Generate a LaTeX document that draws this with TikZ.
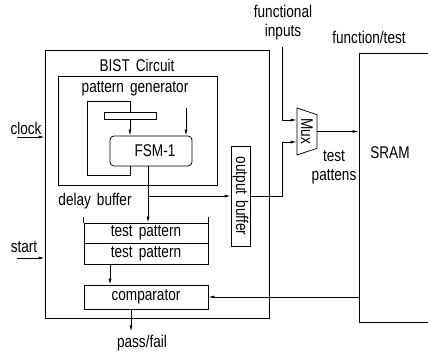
\documentclass[tikz,border=0pt]{standalone}
\usepackage{fontspec}
\setmainfont{Liberation Sans}[FakeStretch=0.8,WordSpace=1.6]
\usetikzlibrary{arrows.meta, shapes.geometric}

\begin{document}
\begin{tikzpicture}[x=1pt, y=-1pt, font=\fontsize{17}{19}\selectfont,
  line width=0.75pt,
  box/.style={draw, inner sep=0pt},
  arr/.style={-{Latex[length=6pt,width=3pt]}}]
\clip (0,0) rectangle (428,355);
% big blocks
\node[box, minimum width=224, minimum height=268] (bist) at (157,184) {};
\node[box, minimum width=159, minimum height=109] (patgen) at (137.5,130.5) {};
\node[box, minimum width=100, minimum height=269] (sram) at (409,187.5) {};
\node at (137,65) (bisttitle) {BIST Circuit};
\node at (135,89) (patgentitle) {pattern generator};
\node at (390,153) (sramtitle) {SRAM};
\node at (369,37) (fntest) {function/test};
% pattern generator inside
\node[box, minimum width=52, minimum height=7] (bar) at (130,115.5) {};
\node[box, rounded corners=4pt, minimum width=82, minimum height=30] (fsm) at (151,151) {\hspace{8pt}FSM-1};
\coordinate (lp) at (87,101);
\coordinate (pin) at (186,108);
\draw (fsm.south -| bar.north) -- ++(0,9) -| (lp) -| (bar.north);
\draw[arr] (bar.south) -- (bar.south |- fsm.north);
\draw[arr] (pin) -- (pin |- fsm.north);
% delay buffer
\node at (95,201) (delaylbl) {delay buffer};
\node[box, minimum width=124, minimum height=20] (tp1) at (146,233) {test pattern};
\node[box, minimum width=124, minimum height=21] (tp2) at (146,253.5) {test pattern};
\draw (tp1.north west) -- ++(0,-6);
\draw (tp1.north east) -- ++(0,-6);
\node[box, minimum width=124, minimum height=24] (comp) at (146,297) {comparator};
\node at (142,343) (pf) {pass/fail};
% output buffer and mux
\node[box, rotate=-90, minimum width=100, minimum height=19] (outbuf) at (240.5,196) {output buffer};
\node[draw, trapezium, rotate=-90, trapezium stretches, trapezium left angle=67,
  trapezium right angle=67, minimum width=47, minimum height=20, inner sep=0pt] (mux) at (307,131.5) {Mux};
\node[align=center] at (283,23) (finlbl) {functional\\inputs};
\node[align=center] at (334,167) (tplbl) {test\\pattens};
\coordinate (fin) at (282,47);
% inputs
\node at (26,128) (clklbl) {clock};
\node at (24,247) (startlbl) {start};
\coordinate (clk) at (17,137);
\coordinate (st) at (17,258);
\draw[arr] (clk) -- (clk -| bist.west);
\draw[arr] (st) -- (st -| bist.west);
% connections
\draw[arr] ([xshift=-3pt]fsm.south) -- ([xshift=-3pt]fsm.south |- tp1.north);
\draw[arr] ([xshift=-3pt]fsm.south |- outbuf.south) -- (outbuf.south);
\draw[arr] (outbuf.north) -- ++(32,0) |- ([yshift=-10.5pt]mux.south);
\draw[arr] (fin) |- ([yshift=11.5pt]mux.south);
\draw[arr] (mux.north) -- (mux.north -| sram.west);
\draw[arr] (sram.west |- comp.east) -- (comp.east);
\draw[arr] ([xshift=-36pt]tp2.south) -- ([xshift=-36pt]comp.north);
\draw[arr] ([xshift=-15pt]comp.south) -- ([xshift=-15pt]comp.south |- pf.north);
\end{tikzpicture}
\end{document}
